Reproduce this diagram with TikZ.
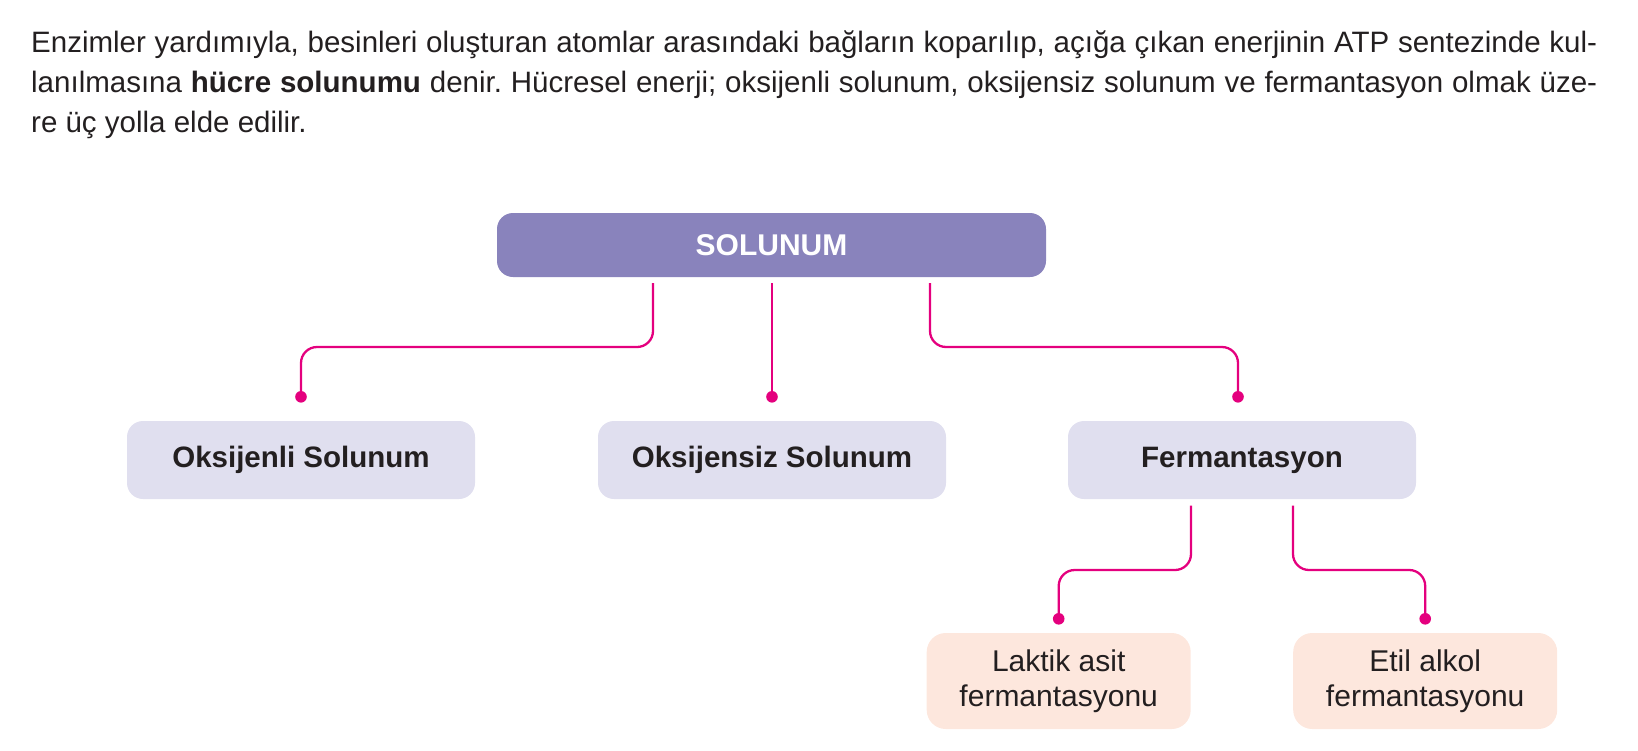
\documentclass[tikz,border=0pt]{standalone}
\usepackage{fontspec}
\setmainfont{Liberation Sans}
\definecolor{txt}{HTML}{231F20}
\definecolor{topc}{HTML}{8983BC}
\definecolor{midc}{HTML}{E0DFEF}
\definecolor{botc}{HTML}{FDE7DD}
\definecolor{mag}{HTML}{E4007E}
\begin{document}
\frenchspacing
\begin{tikzpicture}[x=1pt,y=-1pt,
  bodytext/.style={inner sep=0pt, anchor=base west, text=txt, font=\fontsize{29.5}{39}\selectfont},
  topbox/.style={rectangle, rounded corners=16pt, inner sep=0pt, fill=topc, text=white,
     minimum width=549pt, minimum height=64pt, font=\fontsize{30}{36}\selectfont\bfseries},
  midbox/.style={rectangle, rounded corners=16pt, inner sep=0pt, fill=midc, text=txt,
     minimum width=348pt, minimum height=78pt, font=\fontsize{29.5}{35}\selectfont\bfseries},
  botbox/.style={rectangle, rounded corners=19pt, inner sep=0pt, fill=botc, text=txt, align=center,
     minimum width=264pt, minimum height=96pt, font=\fontsize{30}{35}\selectfont},
  conn/.style={draw=mag, line width=2.3pt, rounded corners=16pt},
  dotc/.style={fill=mag}]
\useasboundingbox (0,0) rectangle (1638,750);

% paragraph
\node[bodytext] (p1) at (31,52.5) {\makebox[1566pt][s]{Enzimler yardımıyla, besinleri oluşturan atomlar arasındaki bağların koparılıp, açığa çıkan enerjinin ATP sentezinde kul-}};
\node[bodytext] (p2) at (31,92.5) {\makebox[1566pt][s]{lanılmasına \textbf{hücre solunumu} denir. Hücresel enerji; oksijenli solunum, oksijensiz solunum ve fermantasyon olmak üze-}};
\node[bodytext] (p3) at (31,132) {re üç yolla elde edilir.};

% boxes
\node[topbox] (top) at (771.5,245) {SOLUNUM};
\node[midbox] (oks) at (301,460) {Oksijenli Solunum};
\node[midbox] (oksz) at (772,460) {Oksijensiz Solunum};
\node[midbox] (ferm) at (1242,460) {Fermantasyon};
\node[botbox] (lak) at (1058.7,681) {Laktik asit\\fermantasyonu};
\node[botbox] (etil) at (1425.2,681) {Etil alkol\\fermantasyonu};

% connector helper coordinates
\coordinate (h1) at (0,347);
\coordinate (h2) at (0,570);
\coordinate (s1) at ([xshift=-118.5pt,yshift=-6pt]top.south);
\coordinate (s2) at ([yshift=-6pt]top.south);
\coordinate (s3) at ([xshift=158.5pt,yshift=-6pt]top.south);
\coordinate (d1) at ([yshift=24pt]oks.north);
\coordinate (d2) at ([yshift=24pt]oksz.north);
\coordinate (d3) at ([xshift=-4pt,yshift=24pt]ferm.north);
\coordinate (s4) at ([xshift=-51pt,yshift=-6.5pt]ferm.south);
\coordinate (s5) at ([xshift=51pt,yshift=-6.5pt]ferm.south);
\coordinate (d4) at ([yshift=14pt]lak.north);
\coordinate (d5) at ([yshift=14pt]etil.north);

\draw[conn] (s1) -- (s1 |- h1) -| (d1);
\draw[conn] (d2 |- s2) -- (d2);
\draw[conn] (s3) -- (s3 |- h1) -| (d3);
\draw[conn] (s4) -- (s4 |- h2) -| (d4);
\draw[conn] (s5) -- (s5 |- h2) -| (d5);

\foreach \d in {d1,d2,d3,d4,d5} \fill[dotc] (\d) circle[radius=5.8pt];
\end{tikzpicture}
\end{document}
